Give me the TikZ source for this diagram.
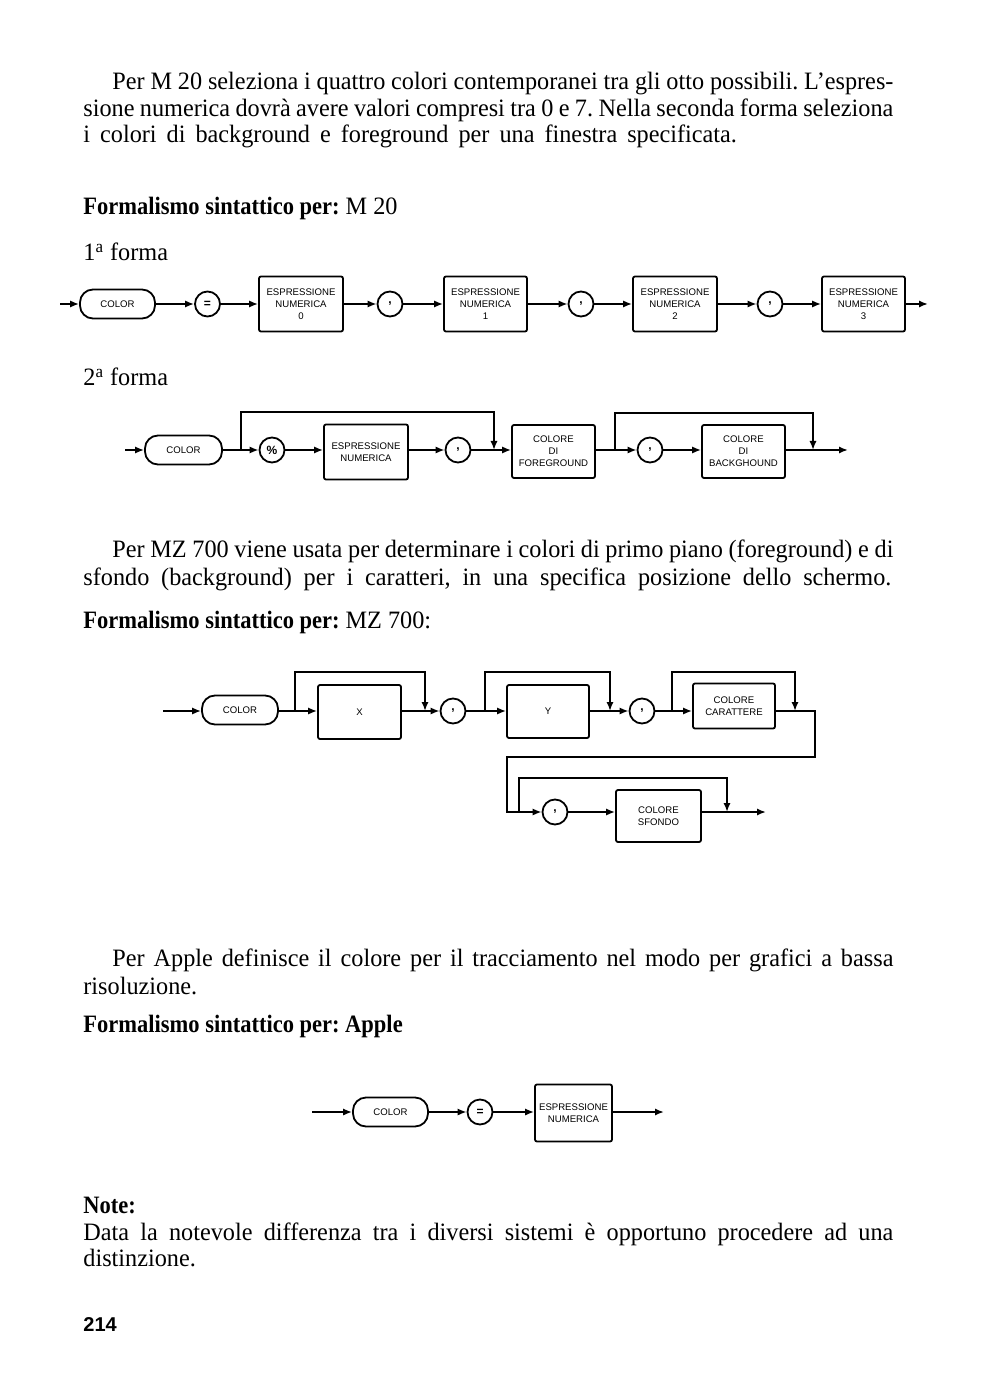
\documentclass[tikz,border=0pt]{standalone}
\usepackage{fontspec}
\setmainfont{Liberation Serif}[FakeStretch=0.97, BoldFeatures={FakeStretch=0.9}]
\newfontfamily\dgfont{Liberation Sans}
\newfontfamily\pgfont{Liberation Sans}
\usetikzlibrary{arrows.meta}
\newcommand\jline[2]{\hbox to #1{\spaceskip=0.25em plus 2em minus 0.12em #2}}
\tikzset{
  body/.style={font=\fontsize{12.5}{14}\selectfont\frenchspacing, inner sep=0pt, anchor=base west},
  ln/.style={line width=0.9pt},
  arr/.style={line width=0.9pt, -{Latex[length=4.5pt,width=3.6pt]}},
  kw/.style={draw, line width=0.9pt, rounded corners=6.5pt, minimum width=#1, minimum height=14.5pt, inner sep=0pt, font=\dgfont\fontsize{4.8}{6}\selectfont},
  ci/.style={draw, circle, line width=0.9pt, minimum size=12.5pt, inner sep=0pt, font=\dgfont\bfseries\fontsize{6}{6}\selectfont},
  bx/.style 2 args={draw, line width=0.9pt, rounded corners=1pt, minimum width=#1, minimum height=#2, inner sep=0pt, align=center, font=\dgfont\fontsize{4.8}{6}\selectfont},
}
\begin{document}
\begin{tikzpicture}[x=0.5pt,y=-0.5pt]
\useasboundingbox (0,0) rectangle (988,1400);
\fill[white] (0,0) rectangle (988,1400);

% ---------- text ----------
\node[body] (p1a) at (112,90) {\jline{390.5pt}{Per M 20 seleziona i quattro colori contemporanei tra gli otto possibili. L'espres-}};
\node[body] (p1b) at (83,117) {\jline{405pt}{sione numerica dovrà avere valori compresi tra 0 e 7. Nella seconda forma seleziona}};
\node[body] (p1c) at (83,143) {\spaceskip=0.4em i colori di background e foreground per una finestra specificata.};
\node[body] (h1) at (83,215) {\textbf{Formalismo sintattico per:} M 20};
\node[body] (f1) at (83,261) {1\textsuperscript{a} forma};
\node[body] (f2) at (83,386) {2\textsuperscript{a} forma};
\node[body] (p2a) at (112,557) {\jline{390.5pt}{Per MZ 700 viene usata per determinare i colori di primo piano (foreground) e di}};
\node[body] (p2b) at (83,585) {\jline{404pt}{sfondo (background) per i caratteri, in una specifica posizione dello schermo.}};
\node[body] (h2) at (83,628) {\textbf{Formalismo sintattico per:} MZ 700:};
\node[body] (p3a) at (112,966) {\jline{390.5pt}{Per Apple definisce il colore per il tracciamento nel modo per grafici a bassa}};
\node[body] (p3b) at (83,994) {risoluzione.};
\node[body] (h3) at (83,1032) {\textbf{Formalismo sintattico per: Apple}};
\node[body] (n1) at (83,1213) {\textbf{Note:}};
\node[body] (n2) at (83,1240) {\jline{405pt}{Data la notevole differenza tra i diversi sistemi è opportuno procedere ad una}};
\node[body] (n3) at (83,1266) {distinzione.};
\node[anchor=base west, inner sep=0pt, font=\pgfont\bfseries\fontsize{10}{12}\selectfont] (pg) at (83,1331) {214};

% ---------- diagram 1 ----------
\coordinate (s1) at (60,304);
\node[kw=37.5pt] (col1) at (117.5,304) {COLOR};
\node[ci] (eq1) at (207.5,304) {=};
\node[bx={42pt}{27.5pt}] (e0) at (301,304) {ESPRESSIONE\\NUMERICA\\0};
\node[ci] (c1) at (390,304) {,};
\node[bx={41.5pt}{27.5pt}] (e1) at (485.5,304) {ESPRESSIONE\\NUMERICA\\1};
\node[ci] (c2) at (581,304) {,};
\node[bx={42pt}{27.5pt}] (e2) at (675,304) {ESPRESSIONE\\NUMERICA\\2};
\node[ci] (c3) at (770,304) {,};
\node[bx={41.5pt}{27.5pt}] (e3) at (863.5,304) {ESPRESSIONE\\NUMERICA\\3};
\coordinate (o1) at (928,304);
\draw[arr] (s1) -- (col1);
\draw[arr] (col1) -- (eq1);
\draw[arr] (eq1) -- (e0);
\draw[arr] (e0) -- (c1);
\draw[arr] (c1) -- (e1);
\draw[arr] (e1) -- (c2);
\draw[arr] (c2) -- (e2);
\draw[arr] (e2) -- (c3);
\draw[arr] (c3) -- (e3);
\draw[arr] (e3) -- (o1);

% ---------- diagram 2 ----------
\coordinate (s2) at (125,450);
\node[kw=38.5pt] (col2) at (183.5,450) {COLOR};
\coordinate (j1) at (241,450);
\node[ci] (pct) at (272,450) {\%};
\node[bx={42pt}{27.5pt}] (en) at (366,452) {ESPRESSIONE\\NUMERICA};
\node[ci] (c4) at (458,450) {,};
\coordinate (m1) at (494,450);
\node[bx={41.5pt}{26.5pt}] (fg) at (553.5,451.5) {COLORE\\DI\\FOREGROUND};
\coordinate (j2) at (615,450);
\node[ci] (c5) at (650,450) {,};
\node[bx={41.5pt}{26.5pt}] (bg) at (743.5,451.5) {COLORE\\DI\\BACKGHOUND};
\coordinate (m2) at (813,450);
\coordinate (o2) at (848,450);
\draw[arr] (s2) -- (col2);
\draw[arr] (col2.east) -- (pct);
\draw[arr] (pct) -- (en.west |- pct);
\draw[arr] (en.east |- c4) -- (c4);
\draw[arr] (c4) -- (fg.west |- c4);
\draw[arr] (j1) -- ++(0,-38) -| (m1);
\draw[arr] (fg.east |- c5) -- (c5);
\draw[arr] (c5) -- (bg.west |- c5);
\draw[arr] (j2) -- ++(0,-37) -| (m2);
\draw[arr] (bg.east |- o2) -- (o2);

% ---------- diagram MZ 700 ----------
\coordinate (s3) at (163,711);
\node[kw=38pt] (col3) at (240,710) {COLOR};
\coordinate (j3) at (295,711);
\node[bx={41.5pt}{27pt}] (bX) at (359.5,712) {X};
\coordinate (m3) at (425,711);
\node[ci] (c6) at (453,711) {,};
\coordinate (j4) at (485,711);
\node[bx={41pt}{26.5pt}] (bY) at (548,711.5) {Y};
\coordinate (m4) at (610,711);
\node[ci] (c7) at (642,711) {,};
\coordinate (j5) at (672,711);
\node[bx={41pt}{22.5pt}] (cc) at (734,706) {COLORE\\CARATTERE};
\coordinate (m5) at (795,711);
\coordinate (t1) at (815,711);
\coordinate (t2) at (815,757);
\coordinate (t3) at (507,757);
\coordinate (t4) at (507,812);
\coordinate (j6) at (519,812);
\node[ci] (c8) at (555,812) {,};
\node[bx={42.5pt}{26pt}] (sf) at (658.5,816) {COLORE\\SFONDO};
\coordinate (m6) at (727,812);
\coordinate (o3) at (766,812);
\draw[arr] (s3) -- (col3.west |- s3);
\draw[arr] (col3.east |- j3) -- (bX.west |- j3);
\draw[arr] (j3) -- ++(0,-39) -| (m3);
\draw[arr] (bX.east |- c6) -- (c6);
\draw[arr] (c6) -- (bY.west |- c6);
\draw[arr] (j4) -- ++(0,-39) -| (m4);
\draw[arr] (bY.east |- c7) -- (c7);
\draw[arr] (c7) -- (cc.west |- c7);
\draw[arr] (j5) -- ++(0,-39) -| (m5);
\draw[ln] (cc.east |- t1) -- (t1) -- (t2) -- (t3) -- (t4) -- (j6);
\draw[arr] (j6) -- (c8);
\draw[arr] (c8) -- (sf.west |- c8);
\draw[arr] (j6) -- ++(0,-34) -| (m6);
\draw[arr] (sf.east |- o3) -- (o3);

% ---------- diagram Apple ----------
\coordinate (s4) at (312,1112);
\node[kw=37.5pt] (col4) at (390.5,1112) {COLOR};
\node[ci] (eq2) at (480,1112) {=};
\node[bx={38.5pt}{28.5pt}] (ea) at (573.5,1113) {ESPRESSIONE\\NUMERICA};
\coordinate (o4) at (664,1112);
\draw[arr] (s4) -- (col4);
\draw[arr] (col4) -- (eq2);
\draw[arr] (eq2) -- (ea.west |- eq2);
\draw[arr] (ea.east |- o4) -- (o4);
\end{tikzpicture}
\end{document}
